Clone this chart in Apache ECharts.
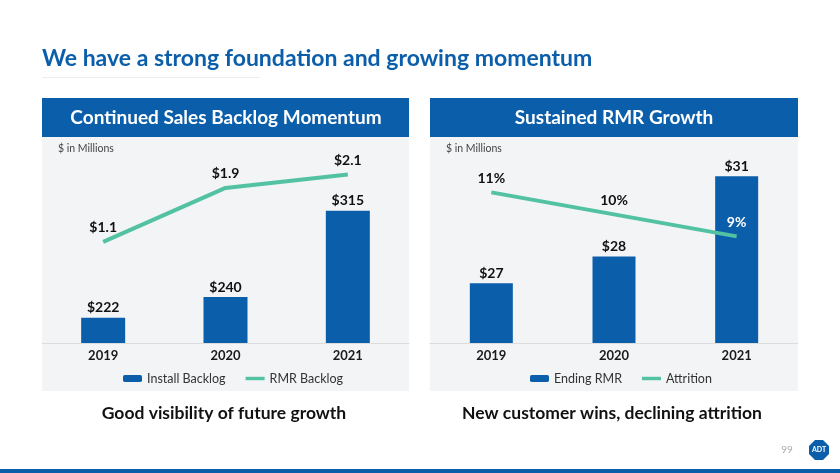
<!DOCTYPE html>
<html>
<head>
<meta charset="utf-8">
<script src="https://cdn.jsdelivr.net/npm/echarts@6/dist/echarts.min.js"></script>
<style>html,body{margin:0;padding:0;background:#fff}#c{width:840px;height:473px}</style>
</head>
<body>
<div id="c"></div>
<script>
const years = ['2019', '2020', '2021'];
const installBacklog = [222, 240, 315];
const rmrBacklog = [1.1, 1.9, 2.1];
const endingRMR = [27, 28, 31];
const attrition = [11, 10, 9];

const BLUE = '#0B5EAA';
const TEAL = '#52C2A3';
const FONT = 'Lato';
const LINE_ICON = 'path://M0,0 L22,0 L22,4 L0,4 Z';

const chart = echarts.init(document.getElementById('c'), null, {renderer: 'canvas'});

const axisX = (gi) => ({
  type: 'category', gridIndex: gi, data: years,
  axisTick: {show: false},
  axisLine: {onZero: false, lineStyle: {color: '#dcdcdc', width: 1}},
  axisLabel: {color: '#1a1a1a', fontFamily: FONT, fontWeight: 'bold', fontSize: 13, margin: 6}
});
const hiddenY = (gi, min, max) => ({
  type: 'value', gridIndex: gi, min: min, max: max, show: false, splitLine: {show: false}
});
const barLabel = {
  show: true, position: 'top', distance: 3, color: '#111', fontFamily: FONT,
  fontWeight: 'bold', fontSize: 14, formatter: p => '$' + p.value
};
const lineLabel = (fmt) => ({
  show: true, position: 'top', distance: 7, color: '#111', fontFamily: FONT,
  fontWeight: 'bold', fontSize: 14, formatter: fmt
});

chart.setOption({
  backgroundColor: '#ffffff',
  animation: false,
  graphic: [
    {type: 'text', left: 42, top: 47, z: 10, style: {text: 'We have a strong foundation and growing momentum', fill: BLUE, font: 'bold 23px Lato'}},
    {type: 'rect', shape: {x: 42, y: 77, width: 218, height: 1}, style: {fill: '#eeeeee'}},
    {type: 'rect', z: -1, shape: {x: 42, y: 98, width: 367, height: 39}, style: {fill: BLUE}},
    {type: 'rect', z: -1, shape: {x: 42, y: 137, width: 367, height: 254}, style: {fill: '#F3F4F6'}},
    {type: 'rect', z: -1, shape: {x: 430, y: 98, width: 368, height: 39}, style: {fill: BLUE}},
    {type: 'rect', z: -1, shape: {x: 430, y: 137, width: 368, height: 254}, style: {fill: '#F3F4F6'}},
    {type: 'text', x: 226, y: 118, z: 10, style: {text: 'Continued Sales Backlog Momentum', fill: '#fff', font: 'bold 19px Lato', textAlign: 'center', textVerticalAlign: 'middle'}},
    {type: 'text', x: 614, y: 118, z: 10, style: {text: 'Sustained RMR Growth', fill: '#fff', font: 'bold 19px Lato', textAlign: 'center', textVerticalAlign: 'middle'}},
    {type: 'text', x: 58, y: 149, z: 10, style: {text: '$ in Millions', fill: '#444', font: '10.5px Lato', textVerticalAlign: 'middle'}},
    {type: 'text', x: 446, y: 149, z: 10, style: {text: '$ in Millions', fill: '#444', font: '10.5px Lato', textVerticalAlign: 'middle'}},
    {type: 'text', x: 224, y: 413, z: 10, style: {text: 'Good visibility of future growth', fill: '#111', font: 'bold 17.5px Lato', textAlign: 'center', textVerticalAlign: 'middle'}},
    {type: 'text', x: 612, y: 413, z: 10, style: {text: 'New customer wins, declining attrition', fill: '#111', font: 'bold 17.5px Lato', textAlign: 'center', textVerticalAlign: 'middle'}},
    {type: 'text', x: 787, y: 450, z: 10, style: {text: '99', fill: '#aaa', font: '10px Lato', textAlign: 'center', textVerticalAlign: 'middle'}},
    {type: 'polygon', z: 5, shape: {points: [[815, 440], [823, 440], [829, 446], [829, 454], [823, 460], [815, 460], [809, 454], [809, 446]]}, style: {fill: BLUE}},
    {type: 'text', x: 819, y: 450, z: 10, style: {text: 'ADT', fill: '#fff', font: 'bold 7px Lato', textAlign: 'center', textVerticalAlign: 'middle'}},
    {type: 'rect', shape: {x: 0, y: 469, width: 840, height: 4}, style: {fill: BLUE}}
  ],
  grid: [
    {left: 42, width: 367, top: 147.5, height: 195.5},
    {left: 430, width: 368, top: 147.5, height: 195.5}
  ],
  xAxis: [axisX(0), axisX(1)],
  yAxis: [
    hiddenY(0, 200, 370),
    hiddenY(0, -0.4, 2.5),
    hiddenY(1, 24.76, 32.08),
    hiddenY(1, 4.15, 13.04)
  ],
  legend: [
    {data: ['Install Backlog', {name: 'RMR Backlog', icon: LINE_ICON}], left: 118, top: 367, itemWidth: 19, itemHeight: 7, itemGap: 20,
     textStyle: {color: '#333', fontFamily: FONT, fontSize: 12.5}},
    {data: ['Ending RMR', {name: 'Attrition', icon: LINE_ICON}], left: 525, top: 367, itemWidth: 19, itemHeight: 7, itemGap: 20,
     textStyle: {color: '#333', fontFamily: FONT, fontSize: 12.5}}
  ],
  series: [
    {name: 'Install Backlog', type: 'bar', xAxisIndex: 0, yAxisIndex: 0, data: installBacklog, barWidth: 44,
     itemStyle: {color: BLUE}, label: barLabel, z: 2},
    {name: 'RMR Backlog', type: 'line', xAxisIndex: 0, yAxisIndex: 1, data: rmrBacklog,
     symbol: 'circle', symbolSize: 0.1, showSymbol: true,
     lineStyle: {color: TEAL, width: 4}, itemStyle: {color: TEAL}, z: 3,
     label: lineLabel(p => '$' + p.value)},
    {name: 'Ending RMR', type: 'bar', xAxisIndex: 1, yAxisIndex: 2, data: endingRMR, barWidth: 43,
     itemStyle: {color: BLUE}, label: barLabel, z: 2},
    {name: 'Attrition', type: 'line', xAxisIndex: 1, yAxisIndex: 3,
     symbol: 'circle', symbolSize: 0.1, showSymbol: true,
     data: attrition.map((v, i) => i === attrition.length - 1 ? {value: v, label: {color: '#fff'}} : v),
     lineStyle: {color: TEAL, width: 4}, itemStyle: {color: TEAL}, z: 3,
     label: lineLabel(p => p.value + '%')}
  ]
});
</script>
</body>
</html>
